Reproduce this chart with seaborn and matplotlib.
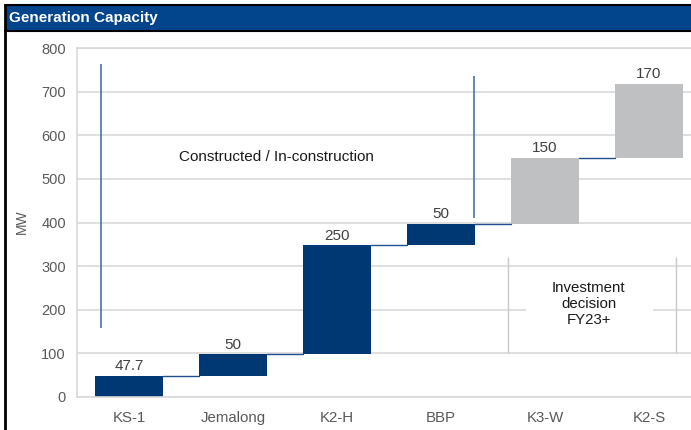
import numpy as np
import pandas as pd
import matplotlib.pyplot as plt
import seaborn as sns
from matplotlib.patches import Rectangle
from matplotlib.lines import Line2D

# 数据
projects = ['KS-1', 'Jemalong', 'K2-H', 'BBP', 'K3-W', 'K2-S']
capacity = [47.7, 50, 250, 50, 150, 170]
status = ['built', 'built', 'built', 'built', 'planned', 'planned']
y_ticks = [0, 100, 200, 300, 400, 500, 600, 700, 800]

BLUE = '#003873'
GREY = '#BFC0C2'
HEAD = '#03458C'
CONN = '#1F4E8C'
LINE_BLUE = '#3A6699'
GRID = '#D9D9D9'
TICK = '#595959'

df = pd.DataFrame({'project': projects, 'mw': capacity, 'status': status})
df['top'] = df['mw'].cumsum()
df['base'] = df['top'] - df['mw']

sns.set_theme(style='whitegrid')
plt.rcParams['font.family'] = ['Liberation Sans', 'DejaVu Sans']

fig = plt.figure(figsize=(6.91, 4.30), dpi=100)
ax = fig.add_axes([77 / 691, 1 - 397 / 430, 624 / 691, 349 / 430])

bar_w = 0.66
for st, col in [('built', BLUE), ('planned', GREY)]:
    sub = df[df['status'] == st]
    sns.barplot(data=sub, x='project', y='mw', order=projects, color=col,
                width=bar_w, bottom=sub['base'].values, saturation=1,
                errorbar=None, linewidth=0, ax=ax)
    # 数值标签（增量）
    ax.bar_label(ax.containers[-1], labels=[f'{v:g}' for v in sub['mw']],
                 padding=2, fontsize=11, color='#404040')

# 连接线
for i in range(len(df) - 1):
    ax.plot([i + bar_w / 2, i + 1 - bar_w / 2], [df['top'][i]] * 2,
            color=CONN, lw=1, zorder=3)

# 分组标注
ax.vlines(-0.27, 158, 764, color=LINE_BLUE, lw=1.1)
ax.vlines(3.32, 410, 735, color=LINE_BLUE, lw=1.1)
ax.text(1.42, 551, 'Constructed / In-construction', ha='center', va='center',
        fontsize=11, color='#1a1a1a')

ax.add_patch(Rectangle((3.82, 120), 1.22, 150, facecolor='white',
                       edgecolor='none', zorder=1))
ax.vlines([3.64, 5.26], 100, 320, color='#C8C8C8', lw=1, zorder=2)
ax.text(4.42, 213, 'Investment\ndecision\nFY23+', ha='center', va='center',
        fontsize=10.8, color='#1a1a1a', linespacing=1.15, zorder=3)

# 坐标轴
ax.set_xlim(-0.5, 5.5)
ax.set_ylim(0, 800)
ax.set_yticks(y_ticks)
ax.grid(axis='y', color=GRID, lw=1.2)
ax.grid(axis='x', visible=False)
for s in ax.spines.values():
    s.set_color(GRID)
    s.set_linewidth(1.2)
ax.tick_params(axis='y', labelsize=10.5, labelcolor=TICK, pad=8, length=0)
ax.tick_params(axis='x', labelsize=10.8, labelcolor=TICK, pad=10, length=0)
ax.set_xlabel('')
ax.set_ylabel('')
fig.text(22 / 691, 1 - 222 / 430, 'MW', rotation=90, ha='center', va='center',
         fontsize=10, color=TICK)

# 标题栏
fig.patches.append(Rectangle((6 / 691, 1 - 30 / 430), 1, 25 / 430,
                             transform=fig.transFigure, facecolor=HEAD,
                             edgecolor='none'))
fig.add_artist(Line2D([5 / 691, 1], [1 - 5 / 430] * 2, color='black', lw=1.5))
fig.add_artist(Line2D([5 / 691, 1], [1 - 30.5 / 430] * 2, color='black', lw=1.5))
fig.add_artist(Line2D([5.5 / 691] * 2, [0, 1 - 4.5 / 430], color='black', lw=2))
fig.text(9 / 691, 1 - 18 / 430, 'Generation Capacity', color='white',
         weight='bold', fontsize=11, va='center')

plt.savefig('out.png', dpi=100)
